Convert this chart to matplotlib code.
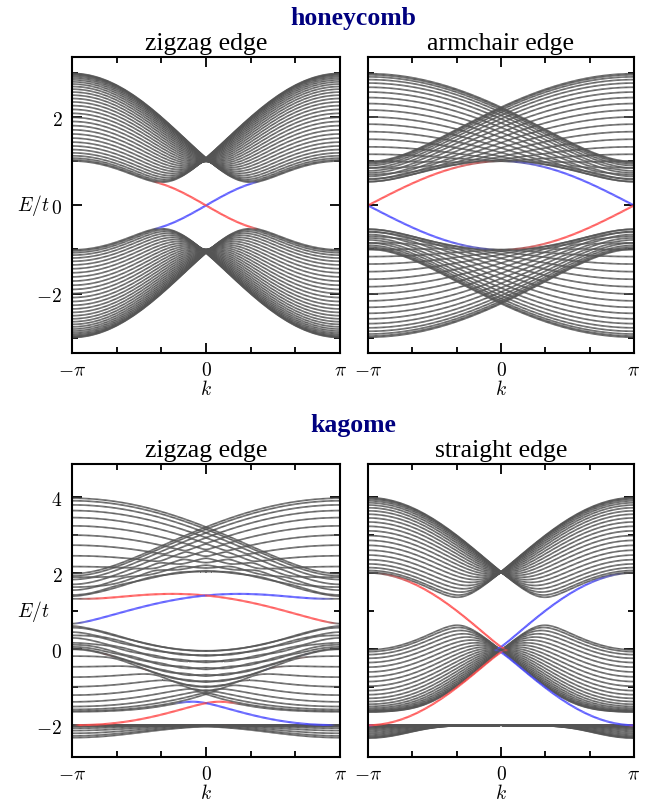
import numpy as np
import matplotlib
matplotlib.use("Agg")
import matplotlib.pyplot as plt
from matplotlib.collections import LineCollection
from matplotlib.ticker import FixedLocator

# === MODEL PARAMETERS (tight-binding ribbons) ===
t1 = 1.0            # nearest-neighbour hopping
t2 = 0.1            # next-nearest-neighbour hopping, phase phi
phi = np.pi / 2
k_shift = np.pi     # k origin used on the figure axis
n_k = 301

# honeycomb lattice
hc_a1 = np.array([1.0, 0.0])
hc_a2 = np.array([0.5, np.sqrt(3) / 2])
hc_basis = [np.zeros(2), (hc_a1 + hc_a2) / 3]
hc_dnn = 1 / np.sqrt(3)

# kagome lattice
kg_a1 = np.array([2.0, 0.0])
kg_a2 = np.array([1.0, np.sqrt(3)])
kg_basis = [np.zeros(2), kg_a1 / 2, kg_a2 / 2]
kg_basis_zz = [np.zeros(2), kg_a2 / 2, -kg_a1 / 2]
kg_dnn = 1.0

# panels
group_titles = ["honeycomb", "kagome"]
edge_titles = ["zigzag edge", "armchair edge", "zigzag edge", "straight edge"]
ribbon_widths = [32, 32, 20, 24]
swap_colors = [False, True, False, False]
y_limits = [(-3.35, 3.37), (-3.35, 3.37), (-2.84, 4.88), (-2.84, 4.88)]
y_major = [[-2, 0, 2], [-2, 0, 2], [-2, 0, 2, 4], [-2, 0, 2, 4]]
y_minor = [[-3, -1, 1, 3], [-3, -1, 1, 3], [-1, 1, 3], [-1, 1, 3]]
x_major = [-np.pi, 0, np.pi]
x_major_labels = [r"$-\pi$", r"$0$", r"$\pi$"]
x_minor = [-2 * np.pi / 3, -np.pi / 3, np.pi / 3, 2 * np.pi / 3]

gray = np.array([0.33, 0.33, 0.33])
red = np.array([1.0, 0.3, 0.3])
blue = np.array([0.3, 0.3, 1.0])


def hop_list(b1, b2, basis, dnn):
    nb = len(basis)
    cand = []
    for n1 in range(-3, 4):
        for n2 in range(-3, 4):
            for j in range(nb):
                cand.append((n1, n2, j, n1 * b1 + n2 * b2 + basis[j]))
    hops = []
    for i in range(nb):
        ri = basis[i]
        near = [c for c in cand if abs(np.linalg.norm(c[3] - ri) - dnn) < 1e-6]
        for c in near:
            hops.append((i, c[2], c[0], c[1], t1))
        for c in cand:
            if abs(np.linalg.norm(c[3] - ri) - np.sqrt(3) * dnn) < 1e-6:
                mid = [m for m in near if abs(np.linalg.norm(c[3] - m[3]) - dnn) < 1e-6]
                d1 = mid[0][3] - ri
                d2 = c[3] - mid[0][3]
                nu = np.sign(d1[0] * d2[1] - d1[1] * d2[0])
                hops.append((i, c[2], c[0], c[1], t2 * np.exp(1j * nu * phi)))
    return hops


def ribbon(hops, nb, nrows, ks, drop=()):
    dim = nb * nrows
    mats = {}
    for (i, j, n1, n2, amp) in hops:
        M = mats.setdefault(n1, np.zeros((dim, dim), complex))
        for m in range(nrows):
            m2 = m + n2
            if 0 <= m2 < nrows:
                M[m2 * nb + j, m * nb + i] += amp
    keep = [m * nb + i for m in range(nrows) for i in range(nb) if (m, i) not in drop]
    rows = np.array([idx // nb for idx in keep])
    ne = 3
    first = rows < ne
    last = rows >= nrows - ne
    f = ne / nrows
    E, A, B = [], [], []
    for k in ks:
        H = sum(M * np.exp(1j * k * n1) for n1, M in mats.items())
        H = H[np.ix_(keep, keep)]
        e, v = np.linalg.eigh(H)
        p = np.abs(v) ** 2
        E.append(e)
        A.append(p[first].sum(axis=0))
        B.append(p[last].sum(axis=0))
    E, A, B = np.array(E), np.array(A), np.array(B)
    a = np.clip((A - 2 * f) / (0.7 - 2 * f), 0, 1)
    b = np.clip((B - 2 * f) / (0.7 - 2 * f), 0, 1)
    return E, a, b


ks = np.linspace(-np.pi, np.pi, n_k)
kstd = ks + k_shift

setups = [
    (hop_list(hc_a1, hc_a2, hc_basis, hc_dnn), 2, "none"),
    (hop_list(hc_a1 + hc_a2, hc_a2, hc_basis, hc_dnn), 2, "none"),
    (hop_list(kg_a1 + kg_a2, kg_a2, kg_basis_zz, kg_dnn), 3, "top_A_only"),
    (hop_list(kg_a1, kg_a2, kg_basis, kg_dnn), 3, "drop_top_C"),
]

plt.rcParams["mathtext.fontset"] = "cm"
plt.rcParams["axes.linewidth"] = 1.5

fig = plt.figure(figsize=(6.5, 8.04), dpi=100)
W, Hh = 650.0, 804.0
boxes = [(72, 58, 340, 354), (368, 58, 634, 354), (72, 465, 340, 758), (368, 465, 634, 758)]

for p, (hops, nb, term) in enumerate(setups):
    nrows = ribbon_widths[p]
    drop = ()
    if term == "drop_top_C":
        drop = ((nrows - 1, 2),)
    elif term == "top_A_only":
        nrows += 1
        drop = ((nrows - 1, 1), (nrows - 1, 2))
    E, a, b = ribbon(hops, nb, nrows, kstd, drop)
    if swap_colors[p]:
        a, b = b, a
    x0, y0, x1, y1 = boxes[p]
    ax = fig.add_axes([x0 / W, 1 - y1 / Hh, (x1 - x0) / W, (y1 - y0) / Hh])
    segs, cols, lws = [], [], []
    for n in range(E.shape[1]):
        pts = np.column_stack([ks, E[:, n]])
        aa = 0.5 * (a[1:, n] + a[:-1, n])
        bb = 0.5 * (b[1:, n] + b[:-1, n])
        c = (1 - aa - bb)[:, None] * gray + aa[:, None] * red + bb[:, None] * blue
        segs.extend(np.stack([pts[:-1], pts[1:]], axis=1))
        cols.extend(np.clip(c, 0, 1))
        lws.extend(1.2 + 0.3 * np.clip(aa + bb, 0, 1))
    order = np.argsort([np.max(np.abs(cc - gray)) for cc in cols])
    lc = LineCollection([segs[i] for i in order], colors=[cols[i] for i in order],
                        linewidths=[lws[i] for i in order])
    ax.add_collection(lc)
    ax.set_xlim(-np.pi, np.pi)
    ax.set_ylim(*y_limits[p])
    ax.xaxis.set_major_locator(FixedLocator(x_major))
    ax.xaxis.set_minor_locator(FixedLocator(x_minor))
    ax.set_xticklabels(x_major_labels, fontsize=14)
    ax.yaxis.set_major_locator(FixedLocator(y_major[p]))
    ax.yaxis.set_minor_locator(FixedLocator(y_minor[p]))
    ax.tick_params(which="both", direction="in", top=True, right=True, width=1.3)
    ax.tick_params(which="major", length=7, pad=7)
    ax.tick_params(axis="x", which="major", pad=5)
    ax.tick_params(which="minor", length=4.5)
    ax.set_xlabel(r"$k$", fontsize=14, labelpad=0)
    if p % 2 == 0:
        ax.set_yticklabels([r"$%d$" % v if v >= 0 else r"$-%d$" % -v for v in y_major[p]], fontsize=14)
        ax.set_ylabel(r"$E/t$", fontsize=14, rotation=0, ha="right", va="center")
        ax.yaxis.set_label_coords(-0.085, 0.5)
    else:
        ax.set_yticklabels([])
    ax.set_title(edge_titles[p], fontsize=18.5, family="Liberation Serif", pad=6)

fig.text(353 / W, 1 - 25 / Hh, group_titles[0], fontsize=18.5, family="Liberation Serif",
         fontweight="bold", color="#00007f", ha="center", va="baseline")
fig.text(353 / W, 1 - 432 / Hh, group_titles[1], fontsize=18.5, family="Liberation Serif",
         fontweight="bold", color="#00007f", ha="center", va="baseline")

fig.savefig("out.png", dpi=100)
